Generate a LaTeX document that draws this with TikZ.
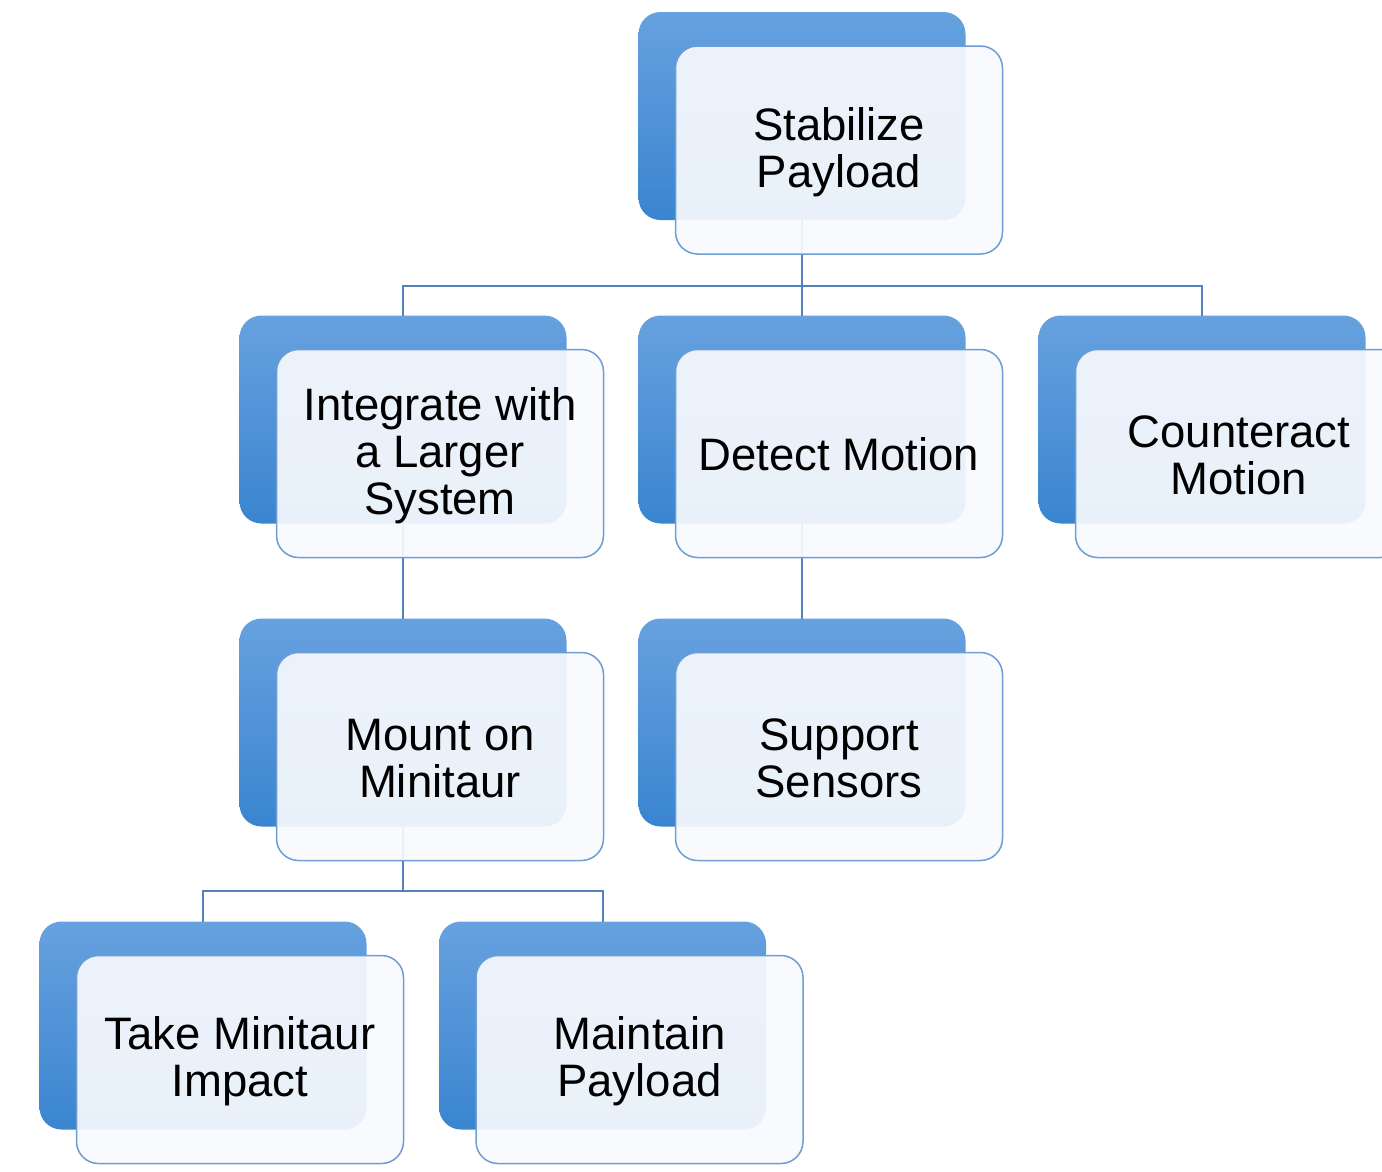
\documentclass[tikz,border=0pt]{standalone}
\usepackage{fontspec}
\setmainfont{Liberation Sans}
\usetikzlibrary{calc}

\definecolor{bluetop}{HTML}{67A1DF}
\definecolor{bluebot}{HTML}{3A85D0}
\definecolor{cardfill}{HTML}{F8FAFD}
\definecolor{cardline}{HTML}{6E9CD4}
\definecolor{wire}{HTML}{5480BE}

\tikzset{
  backbox/.style={rectangle, rounded corners=22pt, minimum width=327pt,
    minimum height=208pt, inner sep=0pt, draw=none,
    top color=bluetop, bottom color=bluebot},
  card/.style={rectangle, rounded corners=22pt, minimum width=327pt,
    minimum height=208pt, inner sep=0pt, draw=cardline, line width=1.5pt,
    fill=cardfill, fill opacity=0.92, text opacity=1},
  cardtext/.style={align=center, inner sep=0pt,
    font=\fontsize{45.5}{47}\selectfont},
  wirestyle/.style={draw=wire, line width=2pt}
}

\begin{document}
\begin{tikzpicture}[x=1pt, y=-1pt]
\useasboundingbox (0,0) rectangle (1382,1171);
\clip (0,0) rectangle (1382,1171);

% centres of the blue backing boxes
\coordinate (p0) at (802,116);
\coordinate (p1) at (403,419.5);
\coordinate (p2) at (802,419.5);
\coordinate (p3) at (1202,419.5);
\coordinate (p4) at (403,722.5);
\coordinate (p5) at (802,722.5);
\coordinate (p6) at (203,1025.5);
\coordinate (p7) at (602.5,1025.5);

% heights of the connector buses
\coordinate (busA) at (0,285.5);
\coordinate (busB) at (0,891);

% connectors, drawn first so the boxes sit on top
\draw[wirestyle] (p0) -- (p0 |- busA) -| (p1);
\draw[wirestyle] (p0 |- busA) -| (p3);
\draw[wirestyle] (p0) -- (p2);
\draw[wirestyle] (p1) -- (p4);
\draw[wirestyle] (p2) -- (p5);
\draw[wirestyle] (p4) -- (p4 |- busB) -| (p6);
\draw[wirestyle] (p4 |- busB) -| (p7);

\foreach \i in {0,...,7}{
  \node[backbox] (b\i) at (p\i) {};
}

% front cards, offset down and to the right
\foreach \i in {0,...,7}{
  \node[card] (c\i) at ($(p\i)+(37,34)$) {};
}

% labels
\node[cardtext] (t0) at ($(c0.center)+(0,2)$) {Stabilize\\Payload};
\node[cardtext] (t1) at ($(c1.center)+(0,2)$) {Integrate with\\a Larger\\System};
\node[cardtext] (t2) at ($(c2.center)+(0,1)$) {Detect Motion};
\node[cardtext] (t3) at ($(c3.center)+(0,2)$) {Counteract\\Motion};
\node[cardtext] (t4) at ($(c4.center)+(0,2)$) {Mount on\\Minitaur};
\node[cardtext] (t5) at ($(c5.center)+(0,2)$) {Support\\Sensors};
\node[cardtext] (t6) at ($(c6.center)+(0,2)$) {Take Minitaur\\Impact};
\node[cardtext] (t7) at ($(c7.center)+(0,2)$) {Maintain\\Payload};
\end{tikzpicture}
\end{document}
